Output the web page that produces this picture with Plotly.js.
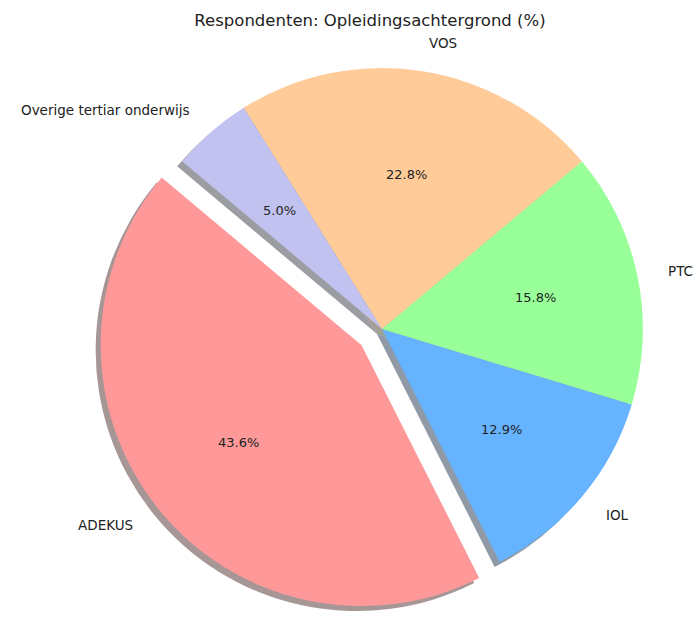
<!DOCTYPE html>
<html>
<head>
<meta charset="utf-8">
<script src="https://cdn.plot.ly/plotly-3.0.1.min.js"></script>
<style>
  html, body { margin: 0; padding: 0; background: #fff; overflow: hidden; }
  #chart { width: 695px; height: 621px; }
</style>
</head>
<body>
<div id="chart"></div>
<script>
// Respondenten: Opleidingsachtergrond (%)
const labels = ["ADEKUS", "IOL", "PTC", "VOS", "Overige tertiar onderwijs"];
const percents = [43.6, 12.9, 15.8, 22.8, 5.0];
const colors = ["#ff9999", "#66b3ff", "#99ff99", "#ffcc99", "#c2c2f0"];
const explode = [0.1, 0, 0, 0, 0];

const W = 695, H = 621;
const margin = { l: 0, r: 0, t: 42, b: 0 };
const plotW = W - margin.l - margin.r;
const plotH = H - margin.t - margin.b;
const startAngle = 140;   // matplotlib style start, counter-clockwise
const shadowPx = 5;       // shadow offset (left + down)

const total = percents.reduce((a, b) => a + b, 0);
// plotly counterclockwise: first slice ends at `rotation` (clockwise from 12 o'clock)
const rotation = 90 - startAngle - 360 * percents[0] / total;

const mainDomain = { x: [0.1324, 0.9669], y: [shadowPx / plotH, 1] };
const shadowDomain = {
  x: [mainDomain.x[0] - shadowPx / plotW, mainDomain.x[1] - shadowPx / plotW],
  y: [0, 1 - shadowPx / plotH]
};

// same geometry plotly uses, to place matplotlib-style labels
const maxPull = Math.max(...explode);
const boxW = plotW * (mainDomain.x[1] - mainDomain.x[0]);
const boxH = plotH * (mainDomain.y[1] - mainDomain.y[0]);
const R = Math.min(boxW, boxH) / 2 / (1 + maxPull);
const cx = margin.l + plotW * (mainDomain.x[0] + mainDomain.x[1]) / 2;
const cy = margin.t + plotH * (1 - mainDomain.y[0]) - boxH / 2;

const toPaperX = px => (px - margin.l) / plotW;
const toPaperY = py => 1 - (py - margin.t) / plotH;

function shade(hex) {
  const n = parseInt(hex.slice(1), 16);
  const r = (n >> 16) & 255, g = (n >> 8) & 255, b = n & 255;
  return `rgba(${Math.round(r * 0.3)},${Math.round(g * 0.3)},${Math.round(b * 0.3)},0.5)`;
}

const annotations = [];
let acc = 0;
percents.forEach((v, i) => {
  const mid = (startAngle + 360 * (acc + v / 2) / total) * Math.PI / 180;
  acc += v;
  const ox = cx + explode[i] * R * Math.cos(mid);
  const oy = cy - explode[i] * R * Math.sin(mid);
  const c = Math.cos(mid), s = Math.sin(mid);
  annotations.push({
    x: toPaperX(ox + 0.6 * R * c), y: toPaperY(oy - 0.6 * R * s),
    xref: "paper", yref: "paper", showarrow: false,
    text: v.toFixed(1) + "%",
    font: { size: 13, color: "#222" },
    xanchor: "center", yanchor: "middle"
  });
  annotations.push({
    x: toPaperX(ox + 1.11 * R * c), y: toPaperY(oy - 1.11 * R * s),
    xref: "paper", yref: "paper", showarrow: false,
    text: labels[i],
    font: { size: 13.5, color: "#222" },
    xanchor: c > 0 ? "left" : "right", yanchor: "middle"
  });
});

const base = {
  type: "pie",
  values: percents,
  labels: labels,
  sort: false,
  direction: "counterclockwise",
  rotation: rotation,
  pull: explode,
  textinfo: "none",
  hoverinfo: "skip",
  showlegend: false
};

Plotly.newPlot("chart", [
  Object.assign({}, base, {
    domain: shadowDomain,
    marker: { colors: colors.map(shade), line: { width: 0 } }
  }),
  Object.assign({}, base, {
    domain: mainDomain,
    marker: { colors: colors, line: { width: 0 } }
  })
], {
  width: W,
  height: H,
  title: {
    text: "Respondenten: Opleidingsachtergrond (%)",
    x: 370 / W, xanchor: "center",
    y: 1 - 20 / H, yanchor: "middle",
    font: { size: 16.5, color: "#222" }
  },
  annotations: annotations,
  font: { family: "DejaVu Sans", color: "#222" },
  paper_bgcolor: "#fff",
  margin: margin
}, { displayModeBar: false, staticPlot: true });
</script>
</body>
</html>
